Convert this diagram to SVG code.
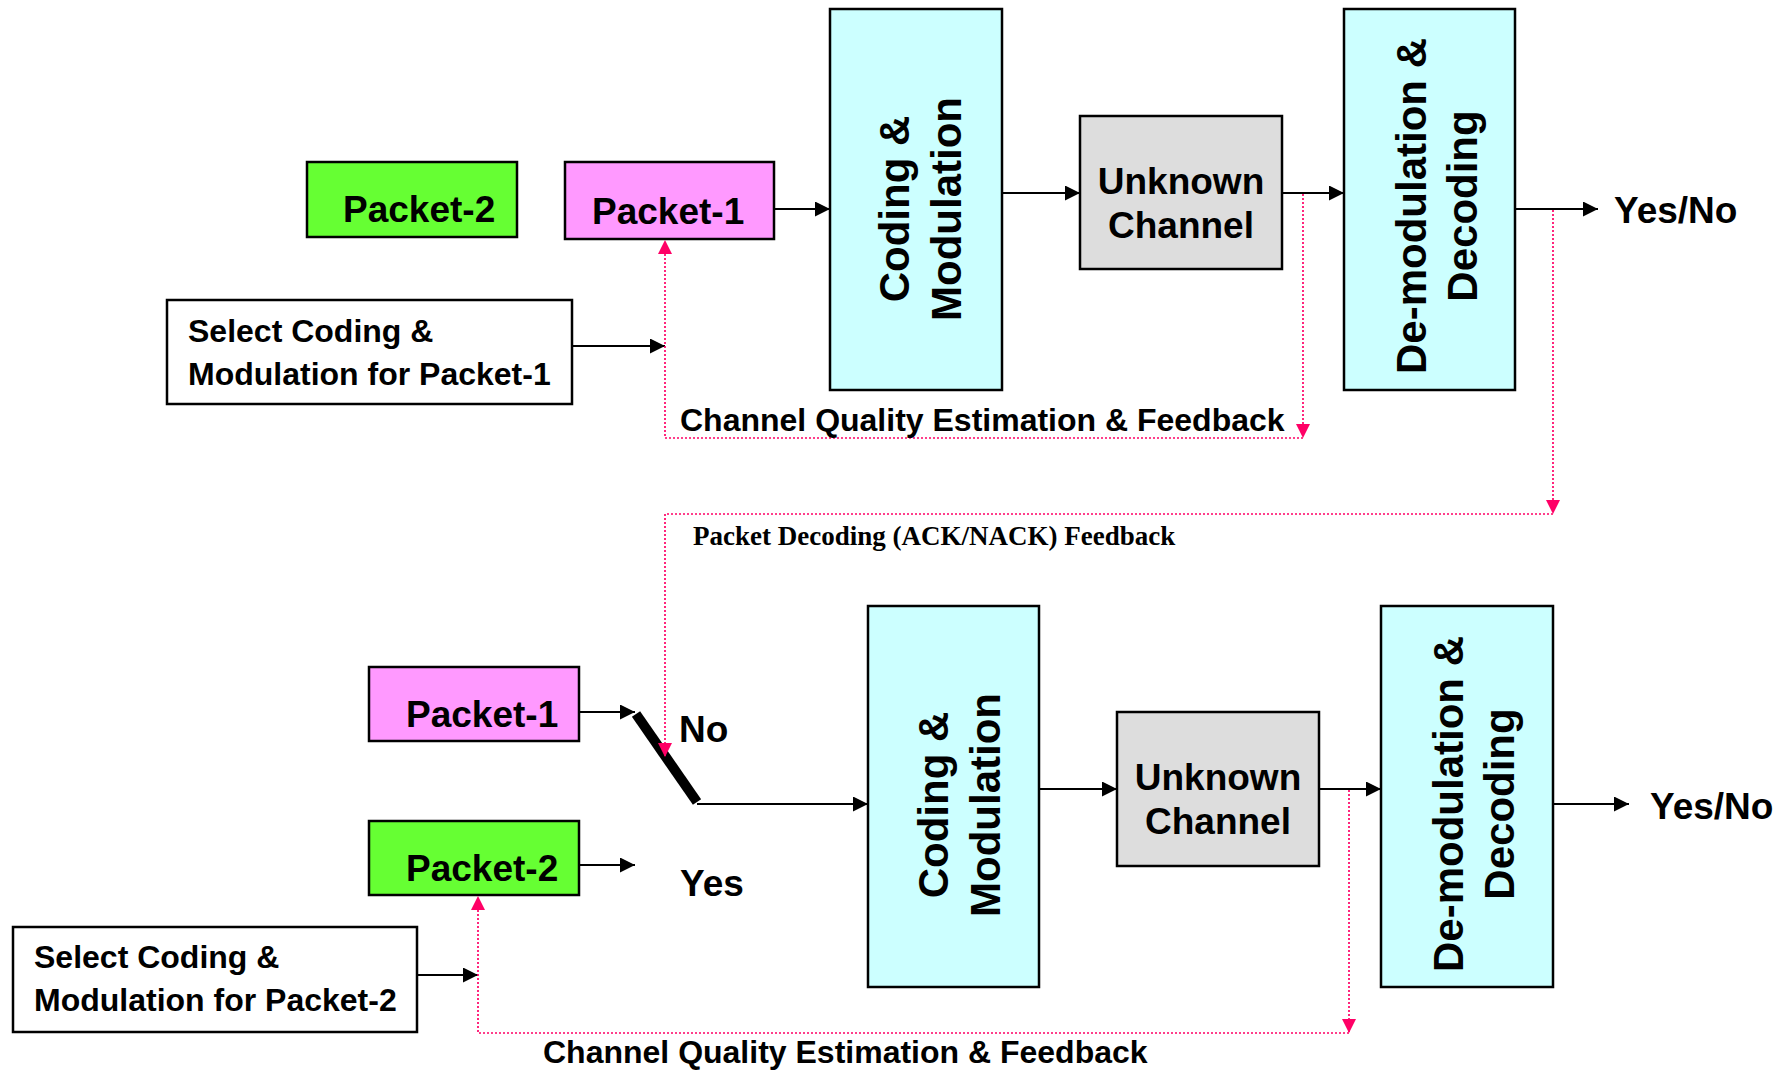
<svg xmlns="http://www.w3.org/2000/svg" width="1790" height="1071" viewBox="0 0 1790 1071">
<style>
.box{stroke:#000;stroke-width:2.5}
.green{fill:#66FF33}
.pink{fill:#FF99FF}
.cyan{fill:#CCFFFF}
.gray{fill:#DDDDDD}
.white{fill:#FFFFFF}
.t{font-family:"Liberation Sans",Arial,sans-serif;font-weight:bold;fill:#000}
.t37{font-size:37px}
.t32{font-size:32px}
.t42{font-size:42px}
.serif{font-family:"Liberation Serif","Times New Roman",serif;font-weight:bold;font-size:27px;fill:#000}
.arrow{fill:none;stroke:#000;stroke-width:2.2}
.fb{fill:none;stroke:#FF0066;stroke-width:1.7;stroke-dasharray:2 2}
</style>
<defs>
<marker id="ah" markerUnits="userSpaceOnUse" markerWidth="16" markerHeight="16" refX="15" refY="7.5" orient="auto">
<path d="M0,0 L15,7.5 L0,15 Z" fill="#000"/>
</marker>
<marker id="ph" markerUnits="userSpaceOnUse" markerWidth="16" markerHeight="16" refX="14" refY="7" orient="auto">
<path d="M0,0 L14,7 L0,14 Z" fill="#FF0066"/>
</marker>
</defs>
<rect width="1790" height="1071" fill="#FFFFFF"/>

<g id="top-packet-2">
<rect class="box green" x="307" y="162" width="210" height="75"/>
<text class="t t37" x="343" y="222">Packet-2</text>
</g>
<g id="top-packet-1">
<rect class="box pink" x="565" y="162" width="209" height="77"/>
<text class="t t37" x="592" y="224">Packet-1</text>
</g>
<g id="top-select">
<rect class="box white" x="167" y="300" width="405" height="104"/>
<text class="t t32" x="188" y="342">Select Coding &amp;</text>
<text class="t t32" x="188" y="385">Modulation for Packet-1</text>
</g>
<g id="top-coding">
<rect class="box cyan" x="830" y="9" width="172" height="381"/>
<text class="t t42" text-anchor="middle" transform="translate(909,209) rotate(-90)">Coding &amp;</text>
<text class="t t42" text-anchor="middle" transform="translate(961,209) rotate(-90)">Modulation</text>
</g>
<g id="top-channel">
<rect class="box gray" x="1080" y="116" width="202" height="153"/>
<text class="t t37" text-anchor="middle" x="1181" y="194">Unknown</text>
<text class="t t37" text-anchor="middle" x="1181" y="238">Channel</text>
</g>
<g id="top-demod">
<rect class="box cyan" x="1344" y="9" width="171" height="381"/>
<text class="t t42" text-anchor="middle" transform="translate(1426,206) rotate(-90)">De-modulation &amp;</text>
<text class="t t42" text-anchor="middle" transform="translate(1477,206) rotate(-90)">Decoding</text>
</g>
<g id="top-yesno">
<text class="t t37" x="1614" y="223">Yes/No</text>
</g>

<g id="bottom-packet-1">
<rect class="box pink" x="369" y="667" width="210" height="74"/>
<text class="t t37" x="406" y="727">Packet-1</text>
</g>
<g id="bottom-packet-2">
<rect class="box green" x="369" y="821" width="210" height="74"/>
<text class="t t37" x="406" y="881">Packet-2</text>
</g>
<g id="bottom-select">
<rect class="box white" x="13" y="927" width="404" height="105"/>
<text class="t t32" x="34" y="968">Select Coding &amp;</text>
<text class="t t32" x="34" y="1011">Modulation for Packet-2</text>
</g>
<g id="switch">
<line x1="636" y1="714" x2="697" y2="802" stroke="#000" stroke-width="10"/>
<text class="t t37" x="679" y="742">No</text>
<text class="t t37" x="680" y="896">Yes</text>
</g>
<g id="bottom-coding">
<rect class="box cyan" x="868" y="606" width="171" height="381"/>
<text class="t t42" text-anchor="middle" transform="translate(948,805) rotate(-90)">Coding &amp;</text>
<text class="t t42" text-anchor="middle" transform="translate(1000,805) rotate(-90)">Modulation</text>
</g>
<g id="bottom-channel">
<rect class="box gray" x="1117" y="712" width="202" height="154"/>
<text class="t t37" text-anchor="middle" x="1218" y="790">Unknown</text>
<text class="t t37" text-anchor="middle" x="1218" y="834">Channel</text>
</g>
<g id="bottom-demod">
<rect class="box cyan" x="1381" y="606" width="172" height="381"/>
<text class="t t42" text-anchor="middle" transform="translate(1463,804) rotate(-90)">De-modulation &amp;</text>
<text class="t t42" text-anchor="middle" transform="translate(1514,804) rotate(-90)">Decoding</text>
</g>
<g id="bottom-yesno">
<text class="t t37" x="1650" y="819">Yes/No</text>
</g>

<g id="connectors">
<path class="arrow" d="M774,209 H830" marker-end="url(#ah)"/>
<path class="arrow" d="M1002,193 H1080" marker-end="url(#ah)"/>
<path class="arrow" d="M1282,193 H1344" marker-end="url(#ah)"/>
<path class="arrow" d="M1515,209 H1598" marker-end="url(#ah)"/>
<path class="arrow" d="M572,346 H665" marker-end="url(#ah)"/>
<path class="fb" d="M1303,194 V438" marker-end="url(#ph)"/>
<path class="fb" d="M1303,438 H665 V240" marker-end="url(#ph)"/>
<path class="fb" d="M1553,210 V514" marker-end="url(#ph)"/>
<path class="fb" d="M1553,514 H665 V757" marker-end="url(#ph)"/>
<path class="arrow" d="M579,712 H635" marker-end="url(#ah)"/>
<path class="arrow" d="M579,865 H635" marker-end="url(#ah)"/>
<path class="arrow" d="M697,804 H868" marker-end="url(#ah)"/>
<path class="arrow" d="M1039,789 H1117" marker-end="url(#ah)"/>
<path class="arrow" d="M1319,789 H1381" marker-end="url(#ah)"/>
<path class="arrow" d="M1553,804 H1629" marker-end="url(#ah)"/>
<path class="arrow" d="M417,975 H478" marker-end="url(#ah)"/>
<path class="fb" d="M1349,790 V1033" marker-end="url(#ph)"/>
<path class="fb" d="M1349,1033 H478 V896" marker-end="url(#ph)"/>
</g>

<g id="labels">
<text class="t t32" x="680" y="431">Channel Quality Estimation &amp; Feedback</text>
<text class="serif" x="693" y="545">Packet Decoding (ACK/NACK) Feedback</text>
<text class="t t32" x="543" y="1063">Channel Quality Estimation &amp; Feedback</text>
</g>
</svg>
